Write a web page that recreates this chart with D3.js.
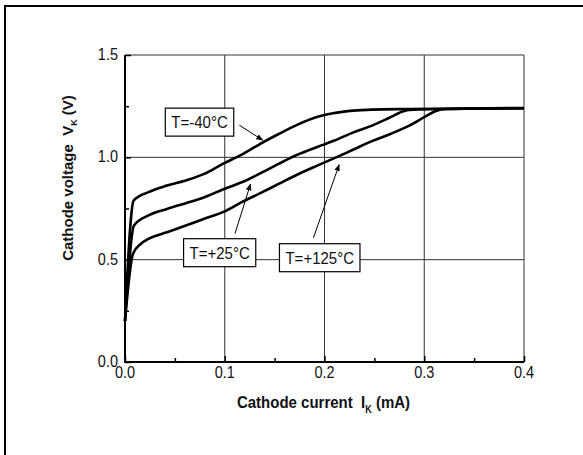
<!DOCTYPE html>
<html>
<head>
<meta charset="utf-8">
<script src="https://cdn.jsdelivr.net/npm/d3@7"></script>
<style>
  body { margin: 0; background: white; }
  text { font-family: "Liberation Sans", Arial, Helvetica, sans-serif; white-space: pre; }
</style>
</head>
<body>
<div id="chart"></div>
<script>
// Cathode voltage vs cathode current, three temperatures
var iM40 = [0, 0.0086, 0.0235, 0.042, 0.061, 0.0795, 0.098, 0.117, 0.1356, 0.154, 0.173, 0.1916, 0.2084, 0.229, 0.2476, 0.285, 0.4];
var vM40 = [0.2, 0.789, 0.83, 0.862, 0.887, 0.919, 0.968, 1.013, 1.066, 1.114, 1.16, 1.196, 1.215, 1.228, 1.233, 1.236, 1.241];

var iP25 = [0, 0.009, 0.0235, 0.042, 0.061, 0.0795, 0.098, 0.117, 0.1356, 0.154, 0.173, 0.199, 0.21, 0.229, 0.2476, 0.266, 0.279, 0.285, 0.4];
var vP25 = [0.2, 0.667, 0.716, 0.748, 0.776, 0.805, 0.843, 0.878, 0.922, 0.968, 1.013, 1.062, 1.082, 1.122, 1.155, 1.196, 1.225, 1.232, 1.24];

var iP125 = [0, 0.008, 0.016, 0.0235, 0.042, 0.061, 0.0795, 0.098, 0.117, 0.1356, 0.154, 0.173, 0.1916, 0.21, 0.229, 0.2476, 0.266, 0.285, 0.30, 0.311, 0.322, 0.4];
var vP125 = [0.2, 0.529, 0.578, 0.602, 0.634, 0.667, 0.7, 0.732, 0.781, 0.825, 0.87, 0.916, 0.957, 0.996, 1.038, 1.079, 1.114, 1.155, 1.196, 1.225, 1.236, 1.24];

var xTicks = [0.0, 0.1, 0.2, 0.3, 0.4];
var yTicks = [0.0, 0.5, 1.0, 1.5];
var xMinor = [0.05, 0.15, 0.25, 0.35];
var yMinor = [0.25, 0.75, 1.25];

// labels: text, label centre (I, V), arrow start and end (I, V)
var labelText = ["T=-40\u00B0C", "T=+25\u00B0C", "T=+125\u00B0C"];
var labelAt = [[0.0747, 1.172], [0.0949, 0.534], [0.1952, 0.5095]];
var arrowFrom = [[0.1146, 1.157], [0.1103, 0.628], [0.1889, 0.607]];
var arrowTo = [[0.138, 1.084], [0.1258, 0.869], [0.2147, 0.964]];

var W = 583, H = 455;
var pL = 125, pR = 524, pT = 55, pB = 362;
var stretch = 1.15;

var x = d3.scaleLinear().domain([0, 0.4]).range([pL, pR]);
var y = d3.scaleLinear().domain([0, 1.5]).range([pB, pT]);

var svg = d3.select('#chart').append('svg')
    .attr('width', W)
    .attr('height', H);

svg.append('defs').append('marker')
    .attr('id', 'head')
    .attr('viewBox', '0 0 10 10')
    .attr('refX', 9).attr('refY', 5)
    .attr('markerWidth', 7).attr('markerHeight', 7)
    .attr('markerUnits', 'userSpaceOnUse')
    .attr('orient', 'auto')
    .append('path')
    .attr('d', 'M0,1 L10,5 L0,9 Z')
    .attr('fill', 'black');

// outer frame (only top/left visible)
svg.append('rect')
    .attr('x', 5).attr('y', 6)
    .attr('width', 700).attr('height', 700)
    .attr('fill', 'none')
    .attr('stroke', 'black')
    .attr('stroke-width', 2);

// grid
var grid = svg.append('g').attr('class', 'grid');
grid.selectAll('.gx')
    .data(xTicks.slice(1))
    .enter().append('line')
    .attr('x1', d => x(d)).attr('x2', d => x(d))
    .attr('y1', pT).attr('y2', pB)
    .attr('stroke', '#333').attr('stroke-width', 1);
grid.selectAll('.gy')
    .data(yTicks.slice(1))
    .enter().append('line')
    .attr('x1', pL).attr('x2', pR)
    .attr('y1', d => y(d)).attr('y2', d => y(d))
    .attr('stroke', '#333').attr('stroke-width', 1);

// axes: inward ticks
var xAxis = d3.axisTop(x).tickValues(xTicks).tickSize(6).tickFormat('');
var xAxisMinor = d3.axisTop(x).tickValues(xMinor).tickSize(4).tickFormat('');
var yAxis = d3.axisRight(y).tickValues(yTicks).tickSize(6).tickFormat('');
var yAxisMinor = d3.axisRight(y).tickValues(yMinor).tickSize(4).tickFormat('');

function styleAxis(g){
    g.select('.domain').remove();
    g.selectAll('line').attr('stroke', 'black').attr('stroke-width', 1.5);
}
svg.append('g').attr('transform', 'translate(0,' + pB + ')').call(xAxis).call(styleAxis);
svg.append('g').attr('transform', 'translate(0,' + pB + ')').call(xAxisMinor).call(styleAxis);
svg.append('g').attr('transform', 'translate(' + pL + ',0)').call(yAxis).call(styleAxis);
svg.append('g').attr('transform', 'translate(' + pL + ',0)').call(yAxisMinor).call(styleAxis);

svg.append('line')
    .attr('x1', pL).attr('x2', pR).attr('y1', pB).attr('y2', pB)
    .attr('stroke', 'black').attr('stroke-width', 2);
svg.append('line')
    .attr('x1', pL).attr('x2', pL).attr('y1', pT).attr('y2', pB + 1)
    .attr('stroke', 'black').attr('stroke-width', 2);

// tick labels
svg.selectAll('.xl')
    .data(xTicks)
    .enter().append('text')
    .attr('transform', d => 'translate(' + x(d) + ',' + (pB + 16) + ') scale(1,' + stretch + ')')
    .attr('text-anchor', 'middle')
    .attr('font-size', '14.5px')
    .attr('fill', '#111')
    .text(d => d.toFixed(1));
svg.selectAll('.yl')
    .data(yTicks)
    .enter().append('text')
    .attr('transform', d => 'translate(' + (pL - 7) + ',' + (y(d) + 5) + ') scale(1,' + stretch + ')')
    .attr('text-anchor', 'end')
    .attr('font-size', '14.5px')
    .attr('fill', '#111')
    .text(d => d.toFixed(1));

// curves
var line = d3.line()
    .x(d => x(d[0]))
    .y(d => y(d[1]))
    .curve(d3.curveMonotoneX);

var series = [d3.zip(iM40, vM40), d3.zip(iP25, vP25), d3.zip(iP125, vP125)];
svg.append('g')
    .selectAll('path')
    .data(series)
    .enter().append('path')
    .attr('d', line)
    .attr('fill', 'none')
    .attr('stroke', 'black')
    .attr('stroke-width', 2.6)
    .attr('stroke-linejoin', 'round');

// arrows
svg.append('g')
    .selectAll('line')
    .data(labelText)
    .enter().append('line')
    .attr('x1', (d, i) => x(arrowFrom[i][0]))
    .attr('y1', (d, i) => y(arrowFrom[i][1]))
    .attr('x2', (d, i) => x(arrowTo[i][0]))
    .attr('y2', (d, i) => y(arrowTo[i][1]))
    .attr('stroke', 'black')
    .attr('stroke-width', 1)
    .attr('marker-end', 'url(#head)');

// label boxes
var labels = svg.append('g')
    .selectAll('g')
    .data(labelText)
    .enter().append('g')
    .attr('transform', (d, i) => 'translate(' + x(labelAt[i][0]) + ',' + y(labelAt[i][1]) + ')');
var boxRects = labels.append('rect')
    .attr('fill', 'white')
    .attr('stroke', 'black')
    .attr('stroke-width', 1.2);
var boxTexts = labels.append('text')
    .attr('transform', 'translate(0,6) scale(1,' + stretch + ')')
    .attr('text-anchor', 'middle')
    .attr('font-size', '15px')
    .attr('fill', '#111')
    .text(d => d);
boxTexts.each(function(d, i){
    let w = this.getComputedTextLength() + 12;
    d3.select(boxRects.nodes()[i])
        .attr('x', -w / 2).attr('y', -14)
        .attr('width', w).attr('height', 28);
});

// axis titles
var xt = svg.append('text')
    .attr('transform', 'translate(' + ((pL + pR) / 2 - 1) + ',408) scale(1,' + stretch + ')')
    .attr('text-anchor', 'middle')
    .attr('font-size', '15px')
    .attr('font-weight', 'bold')
    .attr('fill', '#111');
xt.append('tspan').text('Cathode current  I');
xt.append('tspan').attr('font-size', '9px').attr('dy', 4).text('K');
xt.append('tspan').attr('dy', -4).text(' (mA)');

var yt = svg.append('text')
    .attr('transform', 'translate(73,178) rotate(-90)')
    .attr('text-anchor', 'middle')
    .attr('font-size', '15px')
    .attr('font-weight', 'bold')
    .attr('fill', '#111');
yt.append('tspan').text('Cathode voltage  V');
yt.append('tspan').attr('font-size', '9px').attr('dy', 4).text('K');
yt.append('tspan').attr('dy', -4).text(' (V)');
</script>
</body>
</html>
